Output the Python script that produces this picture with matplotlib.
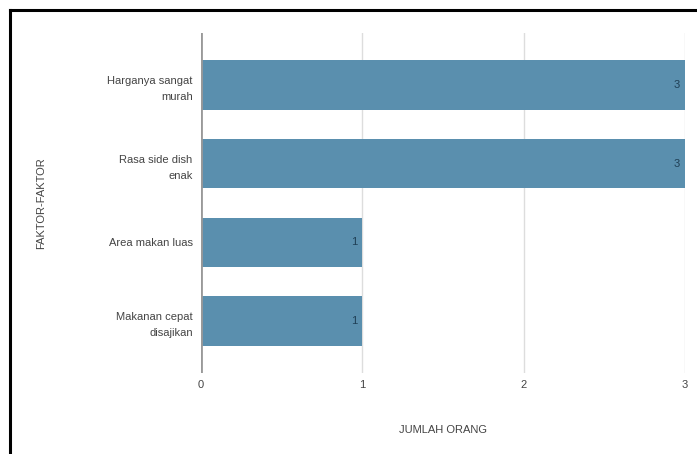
import matplotlib
matplotlib.use('Agg')
from matplotlib import pyplot as plt
from matplotlib.lines import Line2D

# data (top to bottom)
factors = ["Harganya sangat\nmurah", "Rasa side dish\nenak", "Area makan luas", "Makanan cepat\ndisajikan"]
counts = [3, 3, 1, 1]

plt.rcParams['font.family'] = ['Liberation Sans', 'DejaVu Sans']

fig = plt.figure(figsize=(6.97, 4.54), dpi=100)
ax = fig.add_axes([0.2884, 0.1784, 0.6944, 0.7489])

ypos = list(range(len(factors)))
bar_color = "#5a8fae"
ax.barh(ypos, counts, height=0.63, color=bar_color, zorder=3)
for y, v in zip(ypos, counts):
    ax.text(v - 0.03, y, str(v), ha='right', va='center', fontsize=8, color="#1f3f55", zorder=4)

ax.set_xlim(0, 3)
ax.set_ylim(len(factors) - 1 + 0.66, -0.66)
ax.set_yticks(ypos)
ax.set_yticklabels(factors, fontsize=8, color="#444444", linespacing=1.75,
                   multialignment='right')
ax.set_xticks([0, 1, 2, 3])
ax.set_xticklabels(["0", "1", "2", "3"], fontsize=8, color="#444444")
ax.tick_params(axis='x', length=0, pad=5)
ax.tick_params(axis='y', length=0, pad=6)

ax.grid(axis='x', color="#dddddd", linewidth=1, zorder=0)
ax.axvline(0, color="#999999", linewidth=2, zorder=4)
for s in ax.spines.values():
    s.set_visible(False)

ax.set_xlabel("JUMLAH ORANG", fontsize=8, color="#444444", labelpad=25)
ax.set_ylabel("FAKTOR-FAKTOR", fontsize=8, color="#444444", labelpad=44)

# black frame on the top and left
fig.add_artist(Line2D([10 / 697, 10 / 697], [0, 1 - 10 / 454], color="black", linewidth=2.2,
                      transform=fig.transFigure))
fig.add_artist(Line2D([10 / 697, 1], [1 - 10 / 454, 1 - 10 / 454], color="black", linewidth=2.2,
                      transform=fig.transFigure))

plt.savefig("out.png", dpi=100)
